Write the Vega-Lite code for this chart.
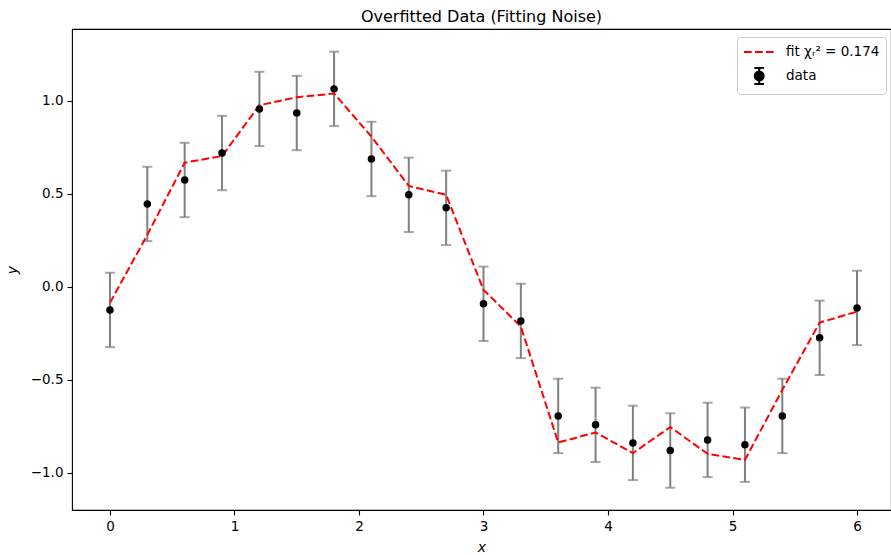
{
  "$schema": "https://vega.github.io/schema/vega-lite/v6.json",
  "width": 819,
  "height": 481,
  "autosize": {"type": "none"},
  "padding": {"left": 72, "top": 29, "right": 0, "bottom": 45},
  "config": {
    "font": "DejaVu Sans",
    "view": {"stroke": "black", "strokeWidth": 1.1},
    "axis": {
      "domain": false,
      "grid": false,
      "tickColor": "black",
      "tickSize": 5,
      "tickWidth": 1.1,
      "labelFontSize": 13.5,
      "labelColor": "black",
      "labelPadding": 4,
      "titleFontSize": 14,
      "titleFontStyle": "italic",
      "titleFontWeight": "normal",
      "titleColor": "black",
      "titlePadding": 8
    }
  },
  "title": {"text": "Overfitted Data (Fitting Noise)", "fontSize": 16, "fontWeight": "normal", "color": "black", "offset": 4},
  "data": {
    "values": [
      {"x": 0.0, "y": -0.124, "fit": -0.086, "err": 0.2},
      {"x": 0.3, "y": 0.446, "fit": 0.28, "err": 0.2},
      {"x": 0.6, "y": 0.575, "fit": 0.668, "err": 0.2},
      {"x": 0.9, "y": 0.72, "fit": 0.704, "err": 0.2},
      {"x": 1.2, "y": 0.957, "fit": 0.977, "err": 0.2},
      {"x": 1.5, "y": 0.935, "fit": 1.02, "err": 0.2},
      {"x": 1.8, "y": 1.065, "fit": 1.04, "err": 0.2},
      {"x": 2.1, "y": 0.688, "fit": 0.808, "err": 0.2},
      {"x": 2.4, "y": 0.495, "fit": 0.543, "err": 0.2},
      {"x": 2.7, "y": 0.425, "fit": 0.495, "err": 0.2},
      {"x": 3.0, "y": -0.091, "fit": -0.016, "err": 0.2},
      {"x": 3.3, "y": -0.183, "fit": -0.213, "err": 0.2},
      {"x": 3.6, "y": -0.694, "fit": -0.837, "err": 0.2},
      {"x": 3.9, "y": -0.742, "fit": -0.783, "err": 0.2},
      {"x": 4.2, "y": -0.839, "fit": -0.894, "err": 0.2},
      {"x": 4.5, "y": -0.88, "fit": -0.754, "err": 0.2},
      {"x": 4.8, "y": -0.823, "fit": -0.898, "err": 0.2},
      {"x": 5.1, "y": -0.849, "fit": -0.93, "err": 0.2},
      {"x": 5.4, "y": -0.694, "fit": -0.554, "err": 0.2},
      {"x": 5.7, "y": -0.274, "fit": -0.192, "err": 0.2},
      {"x": 6.0, "y": -0.113, "fit": -0.133, "err": 0.2}
    ]
  },
  "encoding": {
    "x": {
      "field": "x",
      "type": "quantitative",
      "title": "x",
      "scale": {"domain": [-0.305, 6.273], "nice": false, "zero": false},
      "axis": {"values": [0, 1, 2, 3, 4, 5, 6], "format": "d"}
    }
  },
  "layer": [
    {
      "mark": {
        "type": "errorbar",
        "rule": {"color": "#808080", "strokeWidth": 2},
        "ticks": {"color": "#808080", "size": 10, "thickness": 2}
      },
      "encoding": {
        "y": {
          "field": "y",
          "type": "quantitative",
          "title": "y",
          "scale": {"domain": [-1.2, 1.387], "nice": false, "zero": false},
          "axis": {"values": [-1, -0.5, 0, 0.5, 1], "format": ".1f", "titlePadding": 11}
        },
        "yError": {"field": "err"}
      }
    },
    {
      "mark": {"type": "line", "strokeDash": [7.7, 3.3], "strokeWidth": 2},
      "encoding": {
        "y": {"field": "fit", "type": "quantitative", "title": "y"},
        "color": {
          "datum": "fit χᵣ² = 0.174",
          "type": "nominal",
          "scale": {"domain": ["fit χᵣ² = 0.174", "data"], "range": ["red", "black"]},
          "legend": {
            "orient": "none",
            "legendX": 665,
            "legendY": 8,
            "title": null,
            "labelFontSize": 13.5,
            "labelColor": "black",
            "padding": 6,
            "strokeColor": "#cccccc",
            "fillColor": "rgba(255,255,255,0.8)",
            "cornerRadius": 3,
            "rowPadding": 5,
            "symbolSize": 256,
            "symbolStrokeWidth": 2,
            "labelOffset": 25,
            "encode": {
              "symbols": {
                "update": {
                  "shape": {"signal": "datum.value === 'data' ? 'M0.9,-1L0.9,1M0.3,-1L1.5,-1M0.3,1L1.5,1M0.35,0A0.55,0.55,0,1,0,1.45,0A0.55,0.55,0,1,0,0.35,0Z' : 'M-1,0L2.8,0'"},
                  "size": {"value": 256},
                  "strokeDash": {"signal": "datum.value === 'data' ? [1,0] : [7.7,3.3]"},
                  "fill": {"signal": "datum.value === 'data' ? 'black' : 'transparent'"},
                  "stroke": {"signal": "datum.value === 'data' ? '#808080' : 'red'"},
                  "strokeWidth": {"value": 2},
                  "opacity": {"value": 1}
                }
              }
            }
          }
        }
      }
    },
    {
      "mark": {"type": "point", "filled": true, "size": 56, "opacity": 1},
      "encoding": {
        "y": {"field": "y", "type": "quantitative", "title": "y"},
        "color": {"datum": "data", "type": "nominal"}
      }
    }
  ]
}
